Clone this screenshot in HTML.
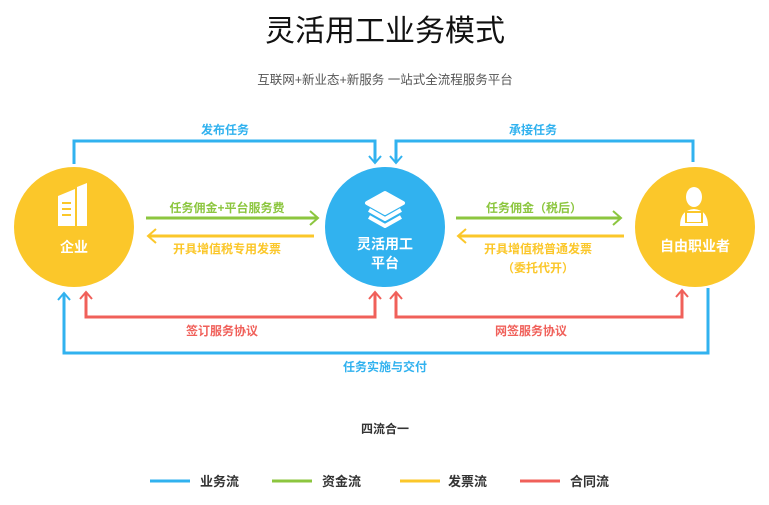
<!DOCTYPE html>
<html><head><meta charset="utf-8"><style>
body{margin:0;width:769px;height:500px;background:#fff;overflow:hidden;font-family:"Liberation Sans","Noto Sans CJK SC",sans-serif}
</style></head><body>
<svg width="769" height="500" viewBox="0 0 769 500" xmlns="http://www.w3.org/2000/svg" font-family="Liberation Sans, Noto Sans CJK SC, sans-serif">
<text x="385" y="41" text-anchor="middle" font-size="30" fill="#111">灵活用工业务模式</text>
<text x="385" y="84" text-anchor="middle" font-size="12.5" fill="#555">互联网+新业态+新服务 一站式全流程服务平台</text>
<g fill="none" stroke-width="3">
<!-- blue top -->
<path d="M74 164V141H375V163" stroke="#31b2ef"/>
<path d="M369 156L375 163L381 156" stroke="#31b2ef" stroke-width="2"/>
<path d="M693 162V141H396V163" stroke="#31b2ef"/>
<path d="M390 156L396 163L402 156" stroke="#31b2ef" stroke-width="2"/>
<!-- green -->
<path d="M146 218H318" stroke="#8cc63f"/><path d="M310 211L318 218L310 225" stroke="#8cc63f" stroke-width="2"/>
<path d="M456 218H621" stroke="#8cc63f"/><path d="M613 211L621 218L613 225" stroke="#8cc63f" stroke-width="2"/>
<!-- yellow -->
<path d="M148 236H314" stroke="#fbc72a"/><path d="M156 229L148 236L156 243" stroke="#fbc72a" stroke-width="2"/>
<path d="M458 236H624" stroke="#fbc72a"/><path d="M466 229L458 236L466 243" stroke="#fbc72a" stroke-width="2"/>
<!-- red -->
<path d="M86 292V317H375V292" stroke="#f0605a"/>
<path d="M80 299L86 292L92 299M369 299L375 292L381 299" stroke="#f0605a" stroke-width="2"/>
<path d="M396 292V317H682V290" stroke="#f0605a"/>
<path d="M390 299L396 292L402 299M676 297L682 290L688 297" stroke="#f0605a" stroke-width="2"/>
<!-- blue bottom -->
<path d="M64 293V353H708V288" stroke="#31b2ef"/>
<path d="M58 300L64 293L70 300" stroke="#31b2ef" stroke-width="2"/>
</g>
<circle cx="74" cy="227" r="60" fill="#fbc72a"/>
<circle cx="385" cy="227" r="60" fill="#31b2ef"/>
<circle cx="695" cy="227" r="60" fill="#fbc72a"/>
<!-- building icon -->
<g fill="#fff">
<path d="M58 226V196L75 189V226Z"/><path d="M77 226V187L87 183V226Z"/>
<rect x="62" y="202" width="9" height="2" fill="#fbc72a"/><rect x="62" y="208" width="9" height="2" fill="#fbc72a"/><rect x="62" y="214" width="9" height="2" fill="#fbc72a"/>
</g>
<!-- layers icon -->
<g fill="none" stroke="#fff" stroke-width="4" stroke-linejoin="round">
<path d="M385 193L403 203L385 213L367 203Z" fill="#fff"/>
<path d="M369 210L385 219L401 210"/><path d="M369 217L385 226L401 217"/>
</g>
<!-- person icon -->
<g fill="#fff">
<ellipse cx="694" cy="197" rx="8" ry="10"/>
<path d="M680 226Q680 210 694 209Q708 210 708 226Z"/>
<rect x="685" y="211" width="18" height="12" fill="#fbc72a"/><rect x="687" y="213" width="14" height="9"/>
</g>
<g font-weight="bold" font-size="14" fill="#fff" text-anchor="middle">
<text x="74" y="252">企业</text>
<text x="385" y="249">灵活用工</text>
<text x="385" y="268">平台</text>
<text x="695" y="251">自由职业者</text>
</g>
<g font-size="12" font-weight="bold" text-anchor="middle">
<text x="225" y="134" fill="#31b2ef">发布任务</text>
<text x="533" y="134" fill="#31b2ef">承接任务</text>
<text x="227" y="212" fill="#8cc63f">任务佣金+平台服务费</text>
<text x="534" y="212" fill="#8cc63f">任务佣金（税后）</text>
<text x="227" y="253" fill="#fbc72a">开具增值税专用发票</text>
<text x="538" y="253" fill="#fbc72a">开具增值税普通发票</text>
<text x="538" y="272" fill="#fbc72a">（委托代开）</text>
<text x="222" y="335" fill="#f0605a">签订服务协议</text>
<text x="531" y="335" fill="#f0605a">网签服务协议</text>
<text x="385" y="371" fill="#31b2ef">任务实施与交付</text>
<text x="385" y="433" fill="#333">四流合一</text>
</g>
<g stroke-width="3">
<path d="M150 481H190" stroke="#31b2ef"/><path d="M272 481H312" stroke="#8cc63f"/>
<path d="M400 481H440" stroke="#fbc72a"/><path d="M520 481H560" stroke="#f0605a"/>
</g>
<g font-size="13" font-weight="bold" fill="#333">
<text x="200" y="486">业务流</text><text x="322" y="486">资金流</text>
<text x="448" y="486">发票流</text><text x="570" y="486">合同流</text>
</g>
</svg>
</body></html>
